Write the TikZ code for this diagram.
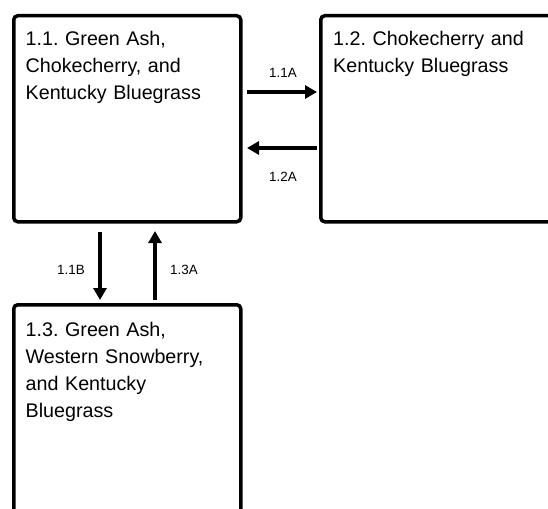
\documentclass[tikz,border=0pt]{standalone}
\usepackage{fontspec}
\setmainfont{Liberation Sans}
\usetikzlibrary{arrows.meta}
\begin{document}
\frenchspacing
\begin{tikzpicture}[x=1pt,y=-1pt,
  box/.style={draw=black,line width=3.5pt,rounded corners=4pt,anchor=north west,inner sep=0pt},
  boxtext/.style={anchor=base west,inner sep=0pt,text width=225pt,align=left,font=\fontsize{19.7}{27}\selectfont},
  lab/.style={inner sep=0pt,font=\fontsize{13.4}{15}\selectfont},
  arr/.style={line width=3.2pt,-{Triangle[length=12pt,width=13pt]}}]
\useasboundingbox (0,0) rectangle (548,508);
\clip (0,0) rectangle (548,508);
\fill[white] (0,0) rectangle (548,508);
\node[box,minimum width=227pt,minimum height=206pt] (b11) at (12,14) {};
\node[box,minimum width=250pt,minimum height=206pt] (b12) at (319,14) {};
\node[box,minimum width=227pt,minimum height=240pt] (b13) at (12,303) {};
\node[boxtext] (t11) at (25.5,46) {1.1. Green Ash,\\Chokecherry, and\\Kentucky Bluegrass};
\node[boxtext] (t12) at (333,46) {1.2. Chokecherry and\\Kentucky Bluegrass};
\node[boxtext] (t13) at (25.5,336) {1.3. Green Ash,\\Western Snowberry,\\and Kentucky\\Bluegrass};
\coordinate (a1s) at (247,92);
\coordinate (a1e) at (317,92);
\coordinate (a2s) at (317,148);
\coordinate (a2e) at (247,148);
\coordinate (a3s) at (100,232);
\coordinate (a3e) at (100,300);
\coordinate (a4s) at (155,300);
\coordinate (a4e) at (155,231);
\draw[arr] (a1s) -- (a1e);
\draw[arr] (a2s) -- (a2e);
\draw[arr] (a3s) -- (a3e);
\draw[arr] (a4s) -- (a4e);
\node[lab] (l1) at (283,73) {1.1A};
\node[lab] (l2) at (283,177) {1.2A};
\node[lab] (l3) at (71,270) {1.1B};
\node[lab] (l4) at (184,270) {1.3A};
\end{tikzpicture}
\end{document}
